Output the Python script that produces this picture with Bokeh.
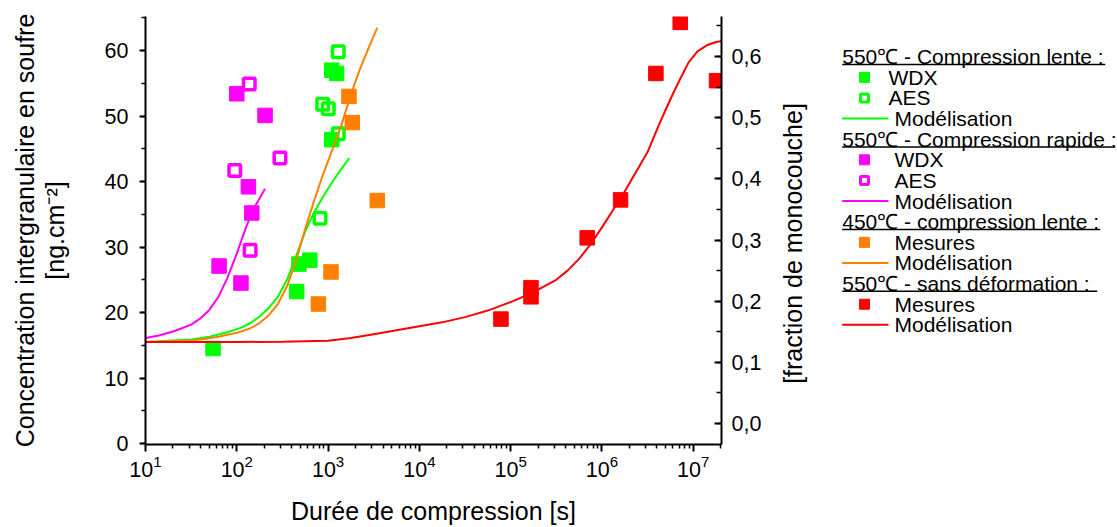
import numpy as np
from bokeh.plotting import figure
from bokeh.layouts import row
from bokeh.models import (Range1d, LinearAxis, FixedTicker, SingleIntervalTicker,
                          CustomJSTickFormatter, LogTickFormatter)
from bokeh.embed import file_html
from bokeh.resources import INLINE
from bokeh.core.properties import value

# ---------------- data ----------------
GREEN = "#00FF00"
MAGENTA = "#FF00FF"
ORANGE = "#FF8000"
RED = "#FF0000"

# 550 C - compression lente
green_wdx_t = [55, 453, 480, 631, 1097, 1097, 1241]
green_wdx_c = [14.5, 23.2, 27.4, 28.0, 46.4, 57.0, 56.5]
green_aes_t = [815, 873, 1005, 1293, 1293]
green_aes_c = [34.4, 51.8, 51.1, 47.3, 59.8]
green_mod_t = [10, 32, 50, 79, 112, 141, 178, 224, 282, 355, 447, 562, 708, 891, 1122, 1413, 1706]
green_mod_c = [15.5, 15.9, 16.3, 17.0, 17.7, 18.4, 19.4, 20.7, 22.4, 25.0, 28.6, 32.4, 35.4, 37.8, 40.0, 42.0, 43.6]

# 550 C - compression rapide
mag_wdx_t = [64, 111, 146, 134, 204, 100]
mag_wdx_c = [27.1, 24.5, 35.2, 39.2, 50.1, 53.4]
mag_aes_t = [95, 140, 137, 297]
mag_aes_c = [41.7, 29.5, 54.9, 43.6]
mag_mod_t = [10, 14, 20, 25, 32, 40, 50, 63, 79, 100, 126, 158, 204]
mag_mod_c = [16.1, 16.5, 17.1, 17.6, 18.2, 19.1, 20.4, 22.4, 25.3, 29.0, 33.0, 36.2, 38.9]

# 450 C - compression lente
or_mes_t = [782, 1076, 1694, 1841, 3460]
or_mes_c = [21.3, 26.2, 53.0, 49.0, 37.1]
or_mod_t = [10, 32, 63, 100, 141, 178, 224, 282, 355, 447, 562, 708, 891, 1122, 1413, 1778, 2239, 2818, 3460]
or_mod_c = [15.5, 15.7, 16.3, 16.9, 17.6, 18.4, 19.6, 21.3, 24.0, 28.0, 32.8, 37.2, 41.3, 45.0, 48.8, 53.3, 57.2, 60.6, 63.5]

# 550 C - sans deformation
red_mes_t = [78300, 167000, 167000, 690000, 1.6e6, 3.9e6, 7.2e6, 1.8e7]
red_mes_c = [19.0, 23.8, 22.4, 31.4, 37.2, 56.5, 64.3, 55.4]
red_mod_t = [10, 100, 316, 1000, 1780, 3160, 5620, 1.0e4, 1.78e4, 3.16e4, 5.62e4, 1.0e5,
             1.78e5, 3.16e5, 4.2e5, 5.62e5, 7.5e5, 1.0e6, 1.33e6, 1.78e6, 2.37e6, 3.16e6,
             4.2e6, 5.0e6, 6.0e6, 7.1e6, 8.9e6, 1.12e7, 1.41e7, 1.78e7, 2.14e7]
red_mod_c = [15.5, 15.5, 15.55, 15.7, 16.1, 16.7, 17.3, 17.9, 18.5, 19.3, 20.3, 21.6,
             23.1, 25.0, 26.4, 28.2, 30.4, 33.0, 35.7, 38.5, 41.5, 44.5, 48.6, 51.0, 53.4,
             55.5, 58.2, 59.9, 60.8, 61.3, 61.5]

x_ticks = [1e1, 1e2, 1e3, 1e4, 1e5, 1e6, 1e7]

FONT = "Liberation Sans"
TICK_SIZE = "21.5px"
TITLE_SIZE = "25px"
LEG_SIZE = "21px"

W1, H = 770, 527

# ---------------- main figure ----------------
p = figure(width=W1, height=H, x_axis_type="log",
           x_range=Range1d(10, 2.04e7), y_range=Range1d(-0.15, 65.2),
           output_backend="svg", toolbar_location=None,
           min_border_left=145, min_border_right=W1 - 721, min_border_top=16,
           min_border_bottom=83)
p.grid.visible = False
p.outline_line_color = None
p.background_fill_color = "white"
p.border_fill_color = "white"

xa = p.xaxis[0]
xa.ticker = FixedTicker(ticks=x_ticks,
                        minor_ticks=[m * t for t in x_ticks for m in range(2, 10)])
xa.formatter = LogTickFormatter()
xa.axis_label = "Durée de compression [s]"

ya = p.yaxis[0]
ya.ticker = SingleIntervalTicker(interval=10, num_minor_ticks=2)
ya.axis_label = "Concentration intergranulaire en soufre\n[ng.cm⁻²]"

p.extra_y_ranges = {"frac": Range1d(-0.0343, 0.6654)}
ra = LinearAxis(y_range_name="frac",
                ticker=SingleIntervalTicker(interval=0.1, num_minor_ticks=2),
                formatter=CustomJSTickFormatter(code="return tick.toFixed(1).replace('.', ',');"))
p.add_layout(ra, "right")

for ax in (xa, ya, ra):
    ax.axis_line_width = 2
    ax.axis_line_color = "black"
    ax.major_tick_line_width = 2
    ax.minor_tick_line_width = 1.5
    ax.major_tick_line_color = "black"
    ax.minor_tick_line_color = "black"
    ax.major_label_text_font = FONT
    ax.major_label_text_font_size = TICK_SIZE
    ax.major_label_text_color = "black"
    ax.axis_label_text_font = FONT
    ax.axis_label_text_font_size = TITLE_SIZE
    ax.axis_label_text_font_style = "normal"
    ax.axis_label_text_color = "black"

xa.major_tick_in = 0
xa.major_tick_out = 7
xa.minor_tick_in = 0
xa.minor_tick_out = 4
xa.major_label_standoff = 3
xa.axis_label_standoff = 17

ya.major_tick_in = 0
ya.major_tick_out = 6
ya.minor_tick_in = 0
ya.minor_tick_out = 4
ya.major_label_standoff = 11
ya.axis_label_standoff = 33
ya.axis_label_text_line_height = 1.05

ra.major_tick_in = 7
ra.major_tick_out = 0
ra.minor_tick_in = 5
ra.minor_tick_out = 0
ra.major_label_standoff = 10

# markers
def filled(t, c, col):
    p.scatter(t, c, marker="square", size=14.5, fill_color=col, line_color=col, line_width=1)

def hollow(t, c, col):
    p.scatter(t, c, marker="square", size=11.5, fill_color=None, line_color=col, line_width=3.5)

filled(green_wdx_t, green_wdx_c, GREEN)
hollow(green_aes_t, green_aes_c, GREEN)
filled(mag_wdx_t, mag_wdx_c, MAGENTA)
hollow(mag_aes_t, mag_aes_c, MAGENTA)
filled(or_mes_t, or_mes_c, ORANGE)
filled(red_mes_t, red_mes_c, RED)

p.line(green_mod_t, green_mod_c, line_color=GREEN, line_width=2)
p.line(mag_mod_t, mag_mod_c, line_color=MAGENTA, line_width=2)
p.line(or_mod_t, or_mod_c, line_color=ORANGE, line_width=2)
p.line(red_mod_t, red_mod_c, line_color=RED, line_width=2)

# ---------------- legend / right title panel ----------------
LW = 1117 - W1
OFF = 779 - W1
q = figure(width=LW, height=H, x_range=Range1d(0, LW), y_range=Range1d(0, H),
           x_axis_location=None, y_axis_location=None, min_border=0,
           output_backend="svg", toolbar_location=None)
q.grid.visible = False
q.outline_line_color = None
q.background_fill_color = "white"
q.border_fill_color = "white"

# right axis title (reads bottom-to-top)
q.text(x=[OFF + 13], y=[H - 279.5], text=["[fraction de monocouche]"], angle=np.pi / 2,
       text_font=value(FONT), text_font_size=TITLE_SIZE, text_align="center",
       text_baseline="middle", text_color="black")

legend_rows = [
    ("header", "550℃ - Compression lente :", None, 263),
    ("filled", "WDX", GREEN, 109),
    ("open", "AES", GREEN, 109),
    ("line", "Modélisation", GREEN, 115),
    ("header", "550℃ - Compression rapide :", None, 273),
    ("filled", "WDX", MAGENTA, 115),
    ("open", "AES", MAGENTA, 115),
    ("line", "Modélisation", MAGENTA, 115),
    ("header", "450℃ - compression lente :", None, 258),
    ("filled", "Mesures", ORANGE, 115),
    ("line", "Modélisation", ORANGE, 115),
    ("header", "550℃ - sans déformation :", None, 255),
    ("filled", "Mesures", RED, 115),
    ("line", "Modélisation", RED, 115),
]
X0 = OFF + 62.7
MX = OFF + 85
for i, (kind, label, col, extra) in enumerate(legend_rows):
    yc = H - (49.5 + 25.4 * i)
    if kind == "header":
        q.text(x=[X0], y=[yc], text=[label], text_font=value(FONT),
               text_font_size=LEG_SIZE, text_align="left", text_baseline="middle",
               text_color="black")
        q.line([X0, X0 + extra], [yc - 9.5, yc - 9.5], line_color="black", line_width=1.5)
    else:
        if kind == "filled":
            q.scatter([MX], [yc], marker="square", size=10, fill_color=col,
                      line_color=col, line_width=1)
        elif kind == "open":
            q.scatter([MX], [yc], marker="square", size=8, fill_color=None,
                      line_color=col, line_width=3)
        else:
            q.line([X0, OFF + 109], [yc, yc], line_color=col, line_width=2)
        q.text(x=[OFF + extra], y=[yc], text=[label], text_font=value(FONT),
               text_font_size=LEG_SIZE, text_align="left", text_baseline="middle",
               text_color="black")

layout = row(p, q)
open("out.html", "w").write(file_html(layout, INLINE))
